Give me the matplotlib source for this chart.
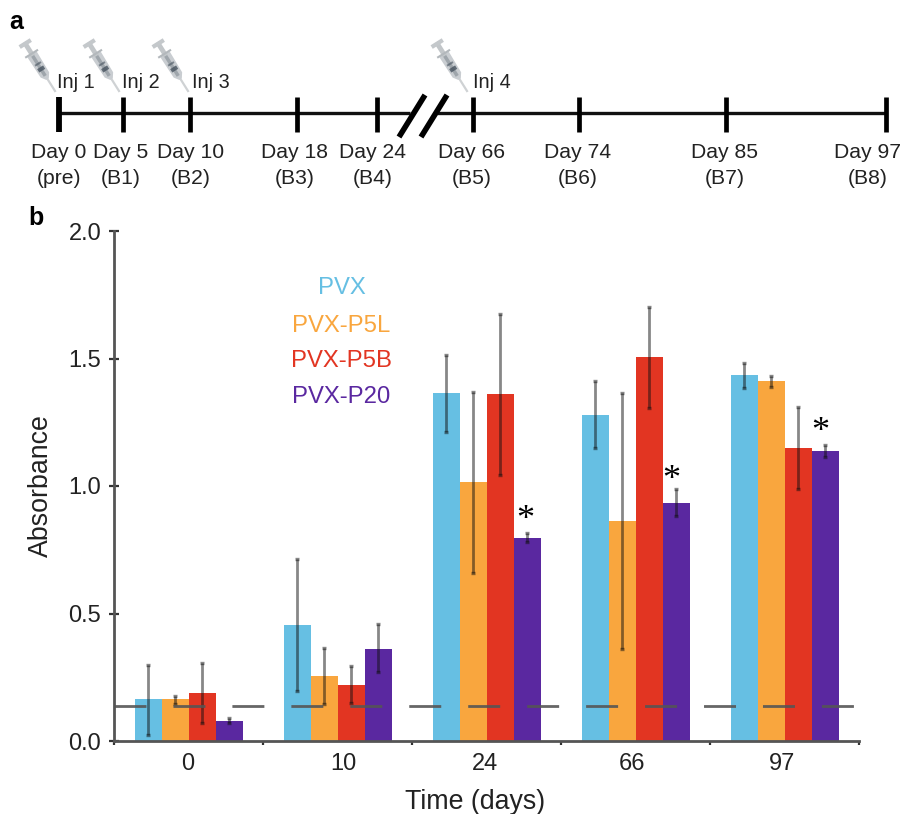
"""Timeline of injections and antibody absorbance per formulation."""

import matplotlib

matplotlib.use("Agg")
import matplotlib.pyplot as plt
import numpy as np

plt.rcParams["font.family"] = ["Liberation Sans", "DejaVu Sans"]

W, H = 904, 814

# panel a
tl_x = [59, 123, 190, 297, 377, 473, 579, 726, 886]
tl_text_x = [59, 121, 191, 295, 373, 472, 578, 725, 868]
tl_days = ["Day 0", "Day 5", "Day 10", "Day 18", "Day 24", "Day 66", "Day 74", "Day 85", "Day 97"]
tl_bleeds = ["(pre)", "(B1)", "(B2)", "(B3)", "(B4)", "(B5)", "(B6)", "(B7)", "(B8)"]
inj_labels = ["Inj 1", "Inj 2", "Inj 3", "Inj 4"]
inj_tip_x = [55, 119, 188, 467]
inj_text_x = [57, 122, 192, 473]

# panel b
groups = ["0", "10", "24", "66", "97"]
group_label_x = [188, 343, 485, 632, 782]
names = ["PVX", "PVX-P5L", "PVX-P5B", "PVX-P20"]
colors = ["#66BFE3", "#F9A63E", "#E23522", "#5A28A0"]
legend_y = [288, 326, 361, 397]
values = {
    "PVX": [0.165, 0.455, 1.365, 1.278, 1.434],
    "PVX-P5L": [0.165, 0.255, 1.015, 0.862, 1.41],
    "PVX-P5B": [0.19, 0.22, 1.36, 1.505, 1.148],
    "PVX-P20": [0.08, 0.36, 0.795, 0.932, 1.138],
}
err_low = {
    "PVX": [0.025, 0.195, 1.21, 1.148, 1.385],
    "PVX-P5L": [0.145, 0.145, 0.66, 0.36, 1.39],
    "PVX-P5B": [0.07, 0.15, 1.043, 1.305, 0.988],
    "PVX-P20": [0.07, 0.27, 0.78, 0.882, 1.115],
}
err_high = {
    "PVX": [0.30, 0.715, 1.514, 1.41, 1.482],
    "PVX-P5L": [0.175, 0.365, 1.37, 1.365, 1.43],
    "PVX-P5B": [0.305, 0.295, 1.675, 1.703, 1.31],
    "PVX-P20": [0.09, 0.46, 0.815, 0.987, 1.16],
}
star_x = [2.76, 3.737, 4.737]
star_y = [0.865, 1.02, 1.21]
cutoff = 0.137


def syringe(ax, tip_x, tip_y):
    # local coords: u runs from the needle tip back to the plunger, v across
    d = np.array([-32.0, -51.0])
    d = d / np.hypot(*d)
    n = np.array([-d[1], d[0]])

    def pts(seq):
        return [(tip_x + u * d[0] + v * n[0], tip_y + u * d[1] + v * n[1]) for u, v in seq]

    ax.plot(*zip(*pts([(0, 0), (18, 0)])), color="#cfd2d4", lw=1.6, zorder=2)
    ax.fill(*zip(*pts([(14, -1.5), (19, -5), (44, -5.5), (44, 5.5), (19, 5), (14, 1.5)])), color="#c9cdd1", lw=0, zorder=2)
    ax.fill(*zip(*pts([(18, -2), (44, -2), (44, 1.5), (18, 1.5)])), color="#9ea5ab", lw=0, zorder=2)
    ax.fill(*zip(*pts([(24, -3.5), (28, -3.5), (28, 3.5), (24, 3.5)])), color="#47535f", alpha=0.8, lw=0, zorder=3)
    ax.fill(*zip(*pts([(31, -3.5), (33, -3.5), (33, 3.5), (31, 3.5)])), color="#47535f", alpha=0.6, lw=0, zorder=3)
    ax.plot(*zip(*pts([(44, 0), (55, 0)])), color="#c2c6c9", lw=3.5, zorder=2)
    ax.plot(*zip(*pts([(44, -6.5), (44, 6.5)])), color="#b3b8bc", lw=1.5, zorder=2)
    ax.plot(*zip(*pts([(56, -4.5), (56, 4.5)])), color="#c4c8cb", lw=3, zorder=2)


fig = plt.figure(figsize=(W / 100, H / 100), dpi=100)

ax_a = fig.add_axes([0, 0, 1, 1])
ax_a.set_xlim(0, W)
ax_a.set_ylim(H, 0)
ax_a.axis("off")

ax_a.plot([tl_x[0], 410], [113, 113], color="#111111", lw=2.4, solid_capstyle="butt")
ax_a.plot([437, tl_x[-1]], [113, 113], color="#111111", lw=2.4, solid_capstyle="butt")
for i, x in enumerate(tl_x):
    ax_a.plot([x, x], [97, 132], color="#000000", lw=4.2 if i == 0 else 3.4, solid_capstyle="butt")
    ax_a.text(tl_text_x[i], 152, tl_days[i], ha="center", va="center", fontsize=15.2, color="#222222")
    ax_a.text(tl_text_x[i], 178, tl_bleeds[i], ha="center", va="center", fontsize=15.2, color="#222222")
ax_a.plot([399, 425], [137, 95], color="#000000", lw=4, solid_capstyle="butt")
ax_a.plot([421, 447], [137, 95], color="#000000", lw=4, solid_capstyle="butt")
for i, label in enumerate(inj_labels):
    syringe(ax_a, inj_tip_x[i], 91)
    ax_a.text(inj_text_x[i], 83, label, ha="left", va="center", fontsize=14.3, color="#222222")

ax_a.text(9, 22, "a", ha="left", va="center", fontsize=18, fontweight="bold")
ax_a.text(28, 218, "b", ha="left", va="center", fontsize=18, fontweight="bold")

# axes box in pixels: x 114.5-859.5, y 231-741
ax = fig.add_axes([114.5 / W, 1 - 741 / H, 745 / W, 510 / H])
ax.patch.set_alpha(0)
ax.set_xlim(0, len(groups))
ax.set_ylim(0, 2)

bar_w = 27 / 149
centers = np.arange(len(groups)) + 0.5
for i, name in enumerate(names):
    xs = centers + (i - 1.5) * bar_w
    vals = np.array(values[name])
    ax.bar(xs, vals, width=bar_w, color=colors[i], lw=0, zorder=2)
    ax.errorbar(
        xs,
        vals,
        yerr=[vals - np.array(err_low[name]), np.array(err_high[name]) - vals],
        fmt="none",
        ecolor="#111111",
        elinewidth=2.0,
        capsize=1.6,
        capthick=2.4,
        alpha=0.5,
        zorder=3,
    )

ax.plot(
    [0, len(groups) - 0.03],
    [cutoff, cutoff],
    color="#555555",
    lw=2,
    dashes=(32 / 2 / 1.39, 27 / 2 / 1.39),
    dash_capstyle="butt",
    alpha=0.9,
    zorder=4,
)

for x, y in zip(star_x, star_y):
    ax.text(x, y, "*", ha="center", va="center", fontsize=26, family="Liberation Serif", zorder=5)

for name, c, y in zip(names, colors, legend_y):
    fig.text(341.5 / W, 1 - y / H, name, ha="center", va="center", fontsize=17.2, color=c)

for side in ("top", "right"):
    ax.spines[side].set_visible(False)
for side in ("left", "bottom"):
    ax.spines[side].set_color("#555555")
    ax.spines[side].set_linewidth(2)

ax.set_yticks([0, 0.5, 1.0, 1.5, 2.0])
ax.set_yticklabels(["0.0", "0.5", "1.0", "1.5", "2.0"], fontsize=17, color="#222222")
ax.set_xticks(np.arange(len(groups) + 1))
ax.set_xticklabels([""] * (len(groups) + 1))
ax.tick_params(axis="y", length=7, width=1.6, color="#333333", pad=6, direction="inout")
ax.tick_params(axis="x", length=3, width=1.6, color="#333333", direction="out")
for x, g in zip(group_label_x, groups):
    fig.text(x / W, 1 - 764 / H, g, ha="center", va="center", fontsize=17, color="#222222")

fig.text(41 / W, 1 - 486 / H, "Absorbance", rotation=90, ha="center", va="center", fontsize=19.3, color="#222222")
fig.text(475 / W, 1 - 802 / H, "Time (days)", ha="center", va="center", fontsize=19.3, color="#222222")

fig.savefig("out.png", dpi=100)
plt.close(fig)
